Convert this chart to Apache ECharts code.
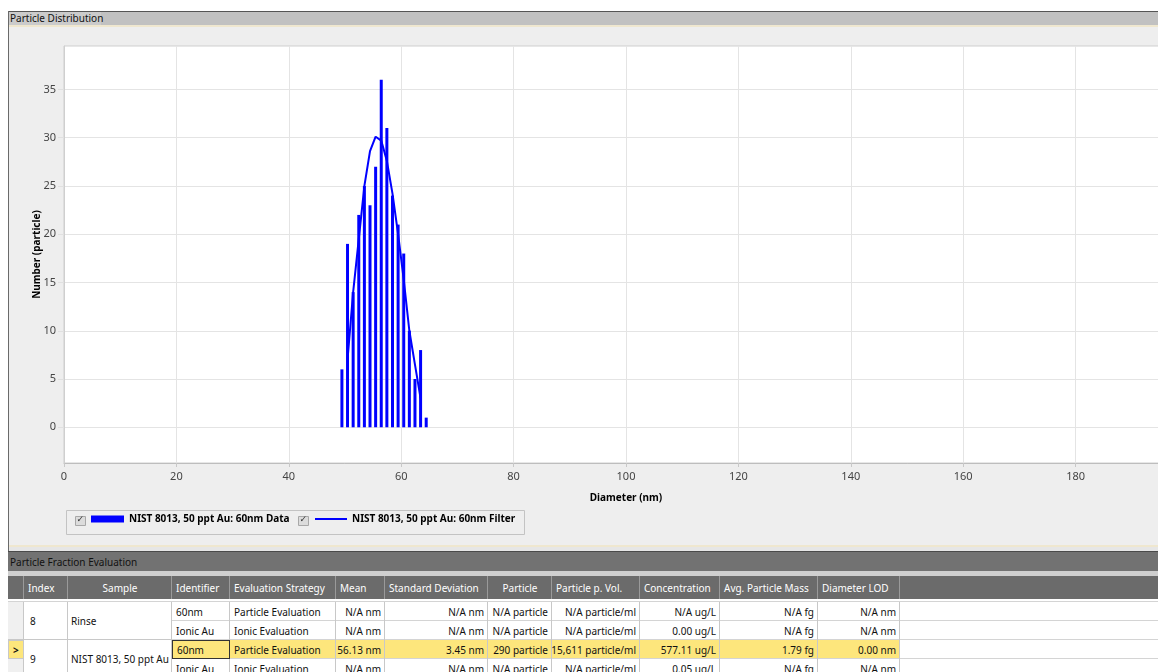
<!DOCTYPE html>
<html><head><meta charset="utf-8">
<script src="https://cdn.jsdelivr.net/npm/echarts@6/dist/echarts.min.js"></script>
<style>
html,body{margin:0;padding:0;width:1158px;height:672px;overflow:hidden;background:#fff;font-family:'Noto Sans','DejaVu Sans',sans-serif;}
.abs{position:absolute;box-sizing:border-box;}
.cell{position:absolute;box-sizing:border-box;font-size:10px;white-space:nowrap;overflow:hidden;padding:0 3px;display:flex;align-items:center;color:#111;}
</style></head>
<body>
<div class="abs" style="left:8px;top:11px;width:1150px;height:1px;background:#555;"></div>
<div class="abs" style="left:8px;top:12px;width:1150px;height:13px;background:#c1c1c1;"></div>
<div class="abs" style="left:9px;top:12px;width:92px;height:13px;background:#cbcbcb;font-size:10px;line-height:13px;padding-left:1px;color:#111;white-space:nowrap;">Particle Distribution</div>
<div class="abs" style="left:8px;top:25px;width:1150px;height:2px;background:#efe7cf;"></div>
<div class="abs" style="left:8px;top:27px;width:1150px;height:518px;background:#eeeeee;"></div>
<div class="abs" style="left:8px;top:545px;width:1150px;height:2px;background:#efe7cf;"></div>
<div class="abs" style="left:8px;top:547px;width:1150px;height:4px;background:#e6e6e6;"></div>
<div class="abs" style="left:8px;top:11px;width:1px;height:541px;background:#6a6a6a;"></div>
<div id="chart" class="abs" style="left:0;top:0;width:1200px;height:545px;"></div>
<div id="table"></div>
<script>
// ---- chart data ----
const diameters = [49.45, 50.45, 51.45, 52.45, 53.45, 54.45, 55.45, 56.45, 57.45, 58.45, 59.45, 60.45, 61.45, 62.45, 63.45, 64.45];
const counts = [6, 19, 14, 22, 25, 23, 27, 36, 31, 24, 21, 18, 10, 5, 8, 1];
const filterX = [50.45, 51.45, 52.45, 53.45, 54.45, 55.45, 56.45, 57.45, 58.45, 59.45, 60.45, 61.45, 62.45, 63.45];
const filterY = [7, 14, 19.5, 25, 28.6, 30.1, 29.7, 27.6, 24.2, 20, 15.3, 10, 6.5, 3];
const yTicks = [0, 5, 10, 15, 20, 25, 30, 35];
const barName = 'NIST 8013, 50 ppt Au: 60nm Data';
const lineName = 'NIST 8013, 50 ppt Au: 60nm Filter';

// ---- table data ----
const headers = ['', 'Index', 'Sample', 'Identifier', 'Evaluation Strategy', 'Mean', 'Standard Deviation', 'Particle', 'Particle p. Vol.', 'Concentration', 'Avg. Particle Mass', 'Diameter LOD'];
const sampleIndex = ['8', '9'];
const sampleNames = ['Rinse', 'NIST 8013, 50 ppt Au'];
const identifiers = ['60nm', 'Ionic Au'];
const strategies = ['Particle Evaluation', 'Ionic Evaluation'];
const row8a = ['N/A nm', 'N/A nm', 'N/A particle', 'N/A particle/ml', 'N/A ug/L', 'N/A fg', 'N/A nm'];
const row8b = ['N/A nm', 'N/A nm', 'N/A particle', 'N/A particle/ml', '0.00 ug/L', 'N/A fg', 'N/A nm'];
const row9a = ['56.13 nm', '3.45 nm', '290 particle', '15,611 particle/ml', '577.11 ug/L', '1.79 fg', '0.00 nm'];
const row9b = ['N/A nm', 'N/A nm', 'N/A particle', 'N/A particle/ml', '0.05 ug/L', 'N/A fg', 'N/A nm'];

const chart = echarts.init(document.getElementById('chart'), null, {renderer: 'canvas'});
const fontFam = "'Noto Sans', sans-serif";
chart.setOption({
  animation: false,
  backgroundColor: 'transparent',
  grid: {left: 64, top: 46, width: 1124, height: 417, show: true, backgroundColor: '#ffffff', borderColor: '#cfcfcf', borderWidth: 1,
         outerBoundsMode: 'none', containLabel: false},
  xAxis: {
    type: 'value', min: 0, max: 200, interval: 20,
    name: 'Diameter (nm)', nameLocation: 'middle', nameGap: 30, nameMoveOverlap: false,
    nameTextStyle: {fontWeight: 'bold', fontSize: 10, color: '#000', fontFamily: fontFam},
    axisLine: {show: true, onZero: false, lineStyle: {color: '#bdbdbd', width: 1}},
    axisTick: {show: true, length: 4, lineStyle: {color: '#c8c8c8'}},
    axisLabel: {color: '#444', fontSize: 11, margin: 8, fontFamily: fontFam, hideOverlap: false},
    splitLine: {show: true, lineStyle: {color: '#e4e4e4', width: 1}}
  },
  yAxis: {
    type: 'value', min: -3.7, max: 39.5,
    name: 'Number (particle)', nameLocation: 'middle', nameGap: 22, nameMoveOverlap: false,
    nameTextStyle: {fontWeight: 'bold', fontSize: 10, color: '#000', fontFamily: fontFam},
    axisLine: {show: true, onZero: false, lineStyle: {color: '#cfcfcf'}},
    axisTick: {show: true, length: 6, customValues: yTicks, lineStyle: {color: '#e0e0e0'}},
    axisLabel: {color: '#444', fontSize: 11, margin: 8, customValues: yTicks, fontFamily: fontFam},
    splitLine: {show: true, lineStyle: {color: '#e4e4e4', width: 1}}
  },
  legend: [
    {left: 91, top: 514, padding: 0, itemWidth: 33, itemHeight: 7, itemGap: 0,
     data: [{name: barName, icon: 'rect'}],
     textStyle: {fontWeight: 'bold', fontSize: 10, color: '#000', fontFamily: fontFam}},
    {left: 315, top: 514, padding: 0, itemWidth: 32, itemHeight: 2, itemGap: 0,
     data: [{name: lineName, icon: 'rect'}],
     textStyle: {fontWeight: 'bold', fontSize: 10, color: '#000', fontFamily: fontFam}}
  ],
  graphic: [
    {type: 'rect', left: 64, top: 508, shape: {width: 458, height: 24}, style: {fill: 'none', stroke: '#c3c3c3', lineWidth: 1}, silent: true},
    {type: 'rect', left: 75, top: 516, shape: {width: 10, height: 9}, style: {fill: '#dcdcdc', stroke: '#a8a8a8', lineWidth: 1}, silent: true},
    {type: 'text', left: 76.5, top: 515, style: {text: '✓', fontSize: 9, fill: '#333', fontFamily: 'DejaVu Sans'}, silent: true},
    {type: 'rect', left: 298, top: 516, shape: {width: 10, height: 9}, style: {fill: '#dcdcdc', stroke: '#a8a8a8', lineWidth: 1}, silent: true},
    {type: 'text', left: 299.5, top: 515, style: {text: '✓', fontSize: 9, fill: '#333', fontFamily: 'DejaVu Sans'}, silent: true}
  ],
  series: [
    {name: barName, type: 'bar', barWidth: 3, itemStyle: {color: '#0000ff'},
     data: diameters.map((d, i) => [d, counts[i]])},
    {name: lineName, type: 'line', symbol: 'none', showSymbol: false, lineStyle: {color: '#0000ff', width: 2}, itemStyle: {color: '#0000ff'},
     data: filterX.map((d, i) => [d, filterY[i]])}
  ]
});

// ---- table drawing ----
const T = document.getElementById('table');
function box(x, y, w, h, css, text) {
  const d = document.createElement('div');
  d.className = text !== undefined ? 'cell' : 'abs';
  d.style.left = x + 'px'; d.style.top = y + 'px'; d.style.width = w + 'px'; d.style.height = h + 'px';
  d.style.cssText += css;
  if (text !== undefined) d.textContent = text;
  T.appendChild(d);
  return d;
}
// section title bar
box(8, 551, 1150, 1, 'background:#4a4a4a;');
box(8, 552, 1150, 19, 'background:#727272;background-image:radial-gradient(#858585 0.6px, transparent 0.7px);background-size:2px 2px;');
box(8, 552, 135, 19, 'background:#727272;color:#111;padding-left:2px;', 'Particle Fraction Evaluation');
box(8, 571, 1150, 5, 'background:#cfcfcf;');
// table body bg
box(8, 576, 1150, 96, 'background:#ffffff;');
const colX = [8, 24, 68, 172, 230, 336, 385, 488, 552, 640, 720, 818, 900];
// header
box(8, 576, 1150, 23, 'background:#6b6b6b;');
for (let i = 0; i < headers.length; i++) {
  const x = colX[i], w = colX[i + 1] - colX[i];
  const center = (i === 2 || i === 7);
  box(x, 576, w, 23, 'color:#fff;border-right:1px solid #9a9a9a;padding-left:4px;' + (center ? 'justify-content:center;' : ''), headers[i]);
}
// partial row above
box(8, 599, 1150, 3, 'background:#fff;border-bottom:1px solid #d4d4d4;');
// sub rows
const rowY = [602, 621, 640, 659, 678];
const subRows = [row8a, row8b, row9a, row9b];
for (let r = 0; r < 4; r++) {
  const y = rowY[r], h = rowY[r + 1] - rowY[r];
  const hl = (r === 2);
  if (hl) box(172, y, 728, h, 'background:#fde67c;');
  box(172, y, 1150 - 172 + 8, h, 'border-bottom:1px solid #d4d4d4;');
  box(172, y, 58, h, 'border-right:1px solid #c8c8c8;padding-left:4px;' + (hl ? 'border:1px solid #333;' : ''), identifiers[r % 2]);
  box(230, y, 106, h, 'border-right:1px solid #c8c8c8;padding-left:4px;', strategies[r % 2]);
  const vals = subRows[r];
  for (let c = 0; c < vals.length; c++) {
    const x = colX[5 + c], w = colX[6 + c] - colX[5 + c];
    box(x, y, w, h, 'justify-content:flex-end;border-right:1px solid #c8c8c8;padding-right:3px;', vals[c]);
  }
}
// row indicator + merged index/sample
for (let g = 0; g < 2; g++) {
  const y = rowY[g * 2], h = rowY[g * 2 + 2] - y;
  box(8, y, 16, h, 'background:#f0f0f0;border-right:1px solid #c8c8c8;border-bottom:1px solid #c8c8c8;');
  box(24, y, 44, h, 'border-right:1px solid #c8c8c8;border-bottom:1px solid #c8c8c8;padding-left:6px;', sampleIndex[g]);
  box(68, y, 104, h, 'border-right:1px solid #c8c8c8;border-bottom:1px solid #c8c8c8;padding-left:3px;', sampleNames[g]);
}
box(8, rowY[2], 16, rowY[3] - rowY[2], 'background:#fde67c;border:1px solid #c8c8c8;font-weight:bold;padding-left:4px;', '>');
</script>
</body></html>
